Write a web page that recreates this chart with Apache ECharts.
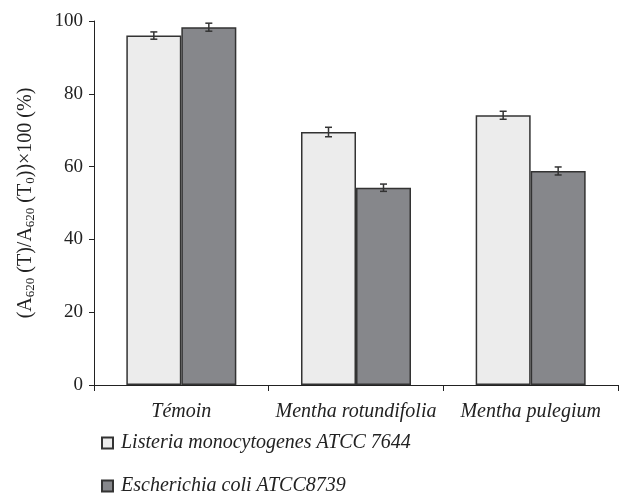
<!DOCTYPE html>
<html><head><meta charset="utf-8">
<script src="https://cdn.jsdelivr.net/npm/echarts@6/dist/echarts.min.js"></script>
<style>html,body{margin:0;padding:0;background:#fff}#c{width:636px;height:500px}</style>
</head><body><div id="c"></div>
<script>
const categories = ['Témoin', 'Mentha rotundifolia', 'Mentha pulegium'];
const seriesNames = ['Listeria monocytogenes ATCC 7644', 'Escherichia coli ATCC8739'];
const listeriaValues = [96.0, 69.5, 74.1];
const listeriaErrors = [1.0, 1.3, 1.1];
const ecoliValues = [98.3, 54.2, 58.8];
const ecoliErrors = [1.1, 1.0, 1.1];
const yTicks = [0, 20, 40, 60, 80, 100];

const FONT = '"Liberation Serif", "Times New Roman", serif';
const BW = 55;
const chart = echarts.init(document.getElementById('c'));

function errSeries(vals, errs, off) {
  return {
    type: 'custom', z: 10,
    data: vals.map((v, i) => [i, v, errs[i]]),
    renderItem: function (params, api) {
      const i = api.value(0), v = api.value(1), e = api.value(2);
      const x = api.coord([i, v])[0] + off;
      const y1 = api.coord([i, v + e])[1];
      const y2 = api.coord([i, v - e])[1];
      const st = { stroke: '#333', lineWidth: 1.5 };
      return { type: 'group', children: [
        { type: 'line', shape: { x1: x, y1: y1, x2: x, y2: y2 }, style: st },
        { type: 'line', shape: { x1: x - 3.5, y1: y1, x2: x + 3.5, y2: y1 }, style: st },
        { type: 'line', shape: { x1: x - 3.5, y1: y2, x2: x + 3.5, y2: y2 }, style: st }
      ]};
    }
  };
}

const legendBase = {
  itemWidth: 11, itemHeight: 11, icon: 'rect', itemGap: 0,
  textStyle: { fontFamily: FONT, fontStyle: 'italic', fontSize: 20, color: '#222', padding: [0, 0, 0, 3] }
};

chart.setOption({
  animation: false,
  grid: { left: 94, right: 18, top: 21, bottom: 115 },
  legend: [
    Object.assign({}, legendBase, { left: 96, top: 428, data: [seriesNames[0]] }),
    Object.assign({}, legendBase, { left: 96, top: 471, data: [seriesNames[1]] })
  ],
  xAxis: {
    type: 'category', data: categories,
    axisLine: { lineStyle: { color: '#222', width: 1 } },
    axisTick: { show: true, length: 6, lineStyle: { color: '#222' } },
    axisLabel: { interval: 0, fontFamily: FONT, fontStyle: 'italic', fontSize: 20, color: '#222', margin: 17 }
  },
  yAxis: {
    type: 'value', min: yTicks[0], max: yTicks[yTicks.length - 1], interval: 20,
    splitLine: { show: false },
    axisLine: { show: true, lineStyle: { color: '#222', width: 1 } },
    axisTick: { show: true, length: 5, lineStyle: { color: '#222' } },
    axisLabel: { fontFamily: FONT, fontSize: 19, color: '#222', margin: 11 },
    name: '(A{s|620} (T)/A{s|620} (T{s|0}))×100 (%)',
    nameLocation: 'middle', nameRotate: 90, nameGap: 57,
    nameTextStyle: {
      fontFamily: FONT, fontSize: 20, color: '#222',
      rich: { s: { fontFamily: FONT, fontSize: 13, color: '#222', verticalAlign: 'bottom', padding: [10, 0, 0, 0] } }
    }
  },
  series: [
    { name: seriesNames[0], type: 'bar', data: listeriaValues, barWidth: BW, barGap: '0%',
      itemStyle: { color: '#ececec', borderColor: '#333', borderWidth: 1.5 } },
    { name: seriesNames[1], type: 'bar', data: ecoliValues, barWidth: BW, barGap: '0%',
      itemStyle: { color: '#86878b', borderColor: '#333', borderWidth: 1.5 } },
    errSeries(listeriaValues, listeriaErrors, -BW / 2),
    errSeries(ecoliValues, ecoliErrors, BW / 2)
  ]
});
</script></body></html>
